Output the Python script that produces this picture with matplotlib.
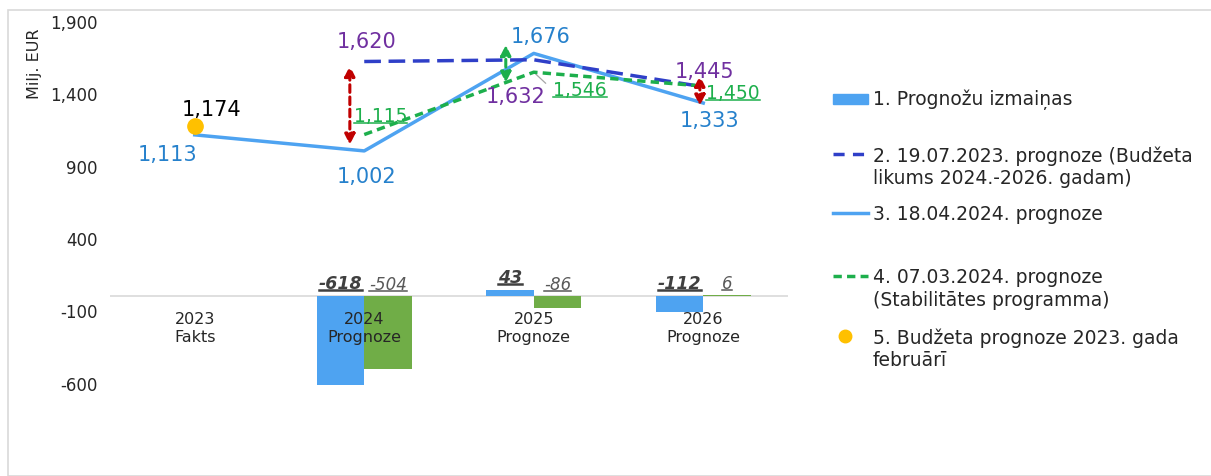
import matplotlib

matplotlib.use("Agg")
import matplotlib.pyplot as plt  # noqa: E402
from matplotlib.lines import Line2D  # noqa: E402
from matplotlib.patches import Rectangle  # noqa: E402
import numpy as np  # noqa: E402

# --- data -------------------------------------------------------------------
categories = ["2023\nFakts", "2024\nPrognoze", "2025\nPrognoze", "2026\nPrognoze"]
change_apr24 = [np.nan, -618, 43, -112]      # 18.04.2024 minus 19.07.2023
change_mar24 = [np.nan, -504, -86, 6]        # 07.03.2024 minus 19.07.2023
forecast_jul23 = [np.nan, 1620, 1632, 1445]  # budget law 2024-2026
forecast_apr24 = [1113, 1002, 1676, 1333]
forecast_mar24 = [np.nan, 1115, 1546, 1450]  # stability programme
budget_feb23 = [1174, np.nan, np.nan, np.nan]
yticks = [-600, -100, 400, 900, 1400, 1900]

legend_labels = [
    "1. Prognožu izmaiņas",
    "2. 19.07.2023. prognoze (Budžeta\nlikums 2024.-2026. gadam)",
    "3. 18.04.2024. prognoze",
    "4. 07.03.2024. prognoze\n(Stabilitātes programma)",
    "5. Budžeta prognoze 2023. gada\nfebruārī",
]

C_BLUE = "#4ea3f1"
C_GREEN_BAR = "#70ad47"
C_NAVY = "#2f3fc8"
C_GREEN = "#1daf4c"
C_ORANGE = "#ffc000"
C_PURPLE = "#7030a0"
C_BLUE_TXT = "#2681cc"
C_GREEN_TXT = "#1daf4c"
C_RED = "#c00000"
C_TEXT = "#262626"
NAVY_DASH = (4.8, 2.2)
GREEN_DASH = (2.4, 1.5)

plt.rcParams["font.family"] = ["DejaVu Sans"]

fig = plt.figure(figsize=(12.11, 4.77), dpi=100)
fig.patches.append(Rectangle((8 / 1211, 0.0), 1.0, 1 - 11 / 477, transform=fig.transFigure,
                             fill=False, edgecolor="#d9d9d9", lw=1.2))
ax = fig.add_axes([110 / 1211, 1 - 456 / 477, 678 / 1211, 434 / 477])

x = np.arange(len(categories))
bw = 0.28
ax.bar(x - bw / 2, change_apr24, bw, color=C_BLUE, zorder=2)
ax.bar(x + bw / 2, change_mar24, bw, color=C_GREEN_BAR, zorder=2)
ax.axhline(0, color="#d9d9d9", lw=1.2, zorder=1)

ax.plot(x, forecast_apr24, color=C_BLUE, lw=2.5, zorder=4)
ax.plot(x, forecast_jul23, color=C_NAVY, lw=2.5, dashes=NAVY_DASH, zorder=4)
ax.plot(x, forecast_mar24, color=C_GREEN, lw=2.5, dashes=GREEN_DASH, zorder=4)
ax.plot(x, budget_feb23, "o", color=C_ORANGE, ms=11, zorder=5)

ax.set_xlim(-0.5, len(categories) - 0.5)
ax.set_ylim(-1100, 1900)
ax.set_yticks(yticks)
ax.set_yticklabels([f"{v:,}" for v in yticks])
ax.set_xticks([])
ax.tick_params(axis="y", length=0, labelsize=12, labelcolor=C_TEXT, pad=9)
for s in ax.spines.values():
    s.set_visible(False)
fig.text(35 / 1211, 1 - 64 / 477, "Milj. EUR", rotation=90, ha="center", va="center",
         fontsize=11.5, color=C_TEXT)

# category labels sit just under the zero line, over the bars
for i, lab in enumerate(categories):
    ax.annotate(lab, (i, 0), xytext=(0, -15), textcoords="offset pixels", ha="center",
                va="top", fontsize=11.5, color=C_TEXT, linespacing=1.25, zorder=6)

underlined = []


def label(i, v, dx, dy, color, under=0, anchor=None, va="center", fontsize=15, **kw):
    yy = v if anchor is None else anchor
    t = ax.annotate(f"{v:,}", (i, yy), xytext=(dx, dy), textcoords="offset pixels",
                    ha="center", va=va, color=color, zorder=7, fontsize=fontsize, **kw)
    if under:
        underlined.append((t, under))
    return t


# bar value labels (above the zero line / bar top)
for i in range(len(categories)):
    if not np.isnan(change_apr24[i]):
        label(i - bw / 2, int(change_apr24[i]), 0, 4, "#404040", 1.8,
              anchor=max(change_apr24[i], 0), va="bottom", fontsize=12.5,
              fontweight="bold", style="italic")
    if not np.isnan(change_mar24[i]):
        label(i + bw / 2, int(change_mar24[i]), 0, 3, "#595959", 1.1,
              anchor=max(change_mar24[i], 0), va="bottom", fontsize=12, style="italic")

# line value labels
label(0, budget_feb23[0], 17, 17, "black")
label(0, forecast_apr24[0], -27, -19, C_BLUE_TXT)
label(1, forecast_apr24[1], 2, -25, C_BLUE_TXT)
label(2, forecast_apr24[2], 7, 17, C_BLUE_TXT)
label(3, forecast_apr24[3], 6, -17, C_BLUE_TXT)
label(1, forecast_jul23[1], 2, 21, C_PURPLE)
label(2, forecast_jul23[2], -18, -36, C_PURPLE)
label(3, forecast_jul23[3], 1, 16, C_PURPLE)
label(1, forecast_mar24[1], 16, 19, C_GREEN_TXT, 1.1, fontsize=13.5)
label(3, forecast_mar24[3], 30, -6, C_GREEN_TXT, 1.1, fontsize=13.5)
label(2, forecast_mar24[2], 46, -17, C_GREEN_TXT, 1.1, fontsize=13.5)
ax.annotate("", xy=(2, forecast_mar24[2]), xytext=(14, -13), textcoords="offset pixels",
            arrowprops=dict(arrowstyle="-", color="#a6a6a6", lw=0.9), zorder=3)

# double-headed dashed arrows marking the revisions
arrows = [
    (1 - 0.085, forecast_jul23[1] - 30, forecast_apr24[1] + 43, C_RED),
    (2 - 0.165, forecast_apr24[2] + 59, forecast_mar24[2] - 72, C_GREEN),
    (3 - 0.02, forecast_jul23[3] + 77, forecast_apr24[3] - 18, C_RED),
]
for ax_x, top, bot, col in arrows:
    ax.annotate("", xy=(ax_x, top), xytext=(ax_x, bot),
                arrowprops=dict(arrowstyle="<|-|>", color=col, lw=2.2,
                                linestyle=(0, (2.5, 1.5)), mutation_scale=15,
                                shrinkA=0, shrinkB=0), zorder=6)

# legend, drawn by hand to match the uneven spacing
leg_y = [100, 155, 214, 277, 337]
x0, x1 = 833 / 1211, 868 / 1211
for k, (lab, yy) in enumerate(zip(legend_labels, leg_y)):
    yf = 1 - yy / 477
    if k == 0:
        fig.patches.append(Rectangle((x0, yf - 5 / 477), x1 - x0, 10 / 477,
                                     transform=fig.transFigure, color=C_BLUE))
    elif k == 1:
        fig.lines.append(Line2D([x0, x1], [yf, yf], transform=fig.transFigure,
                                color=C_NAVY, lw=2.5, dashes=(3.2, 2.4)))
    elif k == 2:
        fig.lines.append(Line2D([x0, x1], [yf, yf], transform=fig.transFigure,
                                color=C_BLUE, lw=2.5))
    elif k == 3:
        fig.lines.append(Line2D([x0, x1], [yf, yf], transform=fig.transFigure,
                                color=C_GREEN, lw=2.5, dashes=GREEN_DASH))
    else:
        fig.lines.append(Line2D([(x0 + x1) / 2 - 6 / 1211], [yf], transform=fig.transFigure,
                                marker="o", color=C_ORANGE, ms=9, ls=""))
    two = "\n" in lab
    fig.text(873 / 1211, yf + (9 / 477 if two else 0), lab, ha="left",
             va="top" if two else "center", fontsize=13.5, color=C_TEXT, linespacing=1.25)

# underline the data labels that are underlined in the original
fig.canvas.draw()
r = fig.canvas.get_renderer()
inv = fig.transFigure.inverted()
for t, lw in underlined:
    bb = t.get_window_extent(r)
    (xa, ya), (xb, _) = inv.transform([(bb.x0, bb.y0 + 2), (bb.x1, bb.y0)])
    fig.lines.append(Line2D([xa, xb], [ya, ya], transform=fig.transFigure,
                            color=t.get_color(), lw=lw))

fig.savefig("out.png", dpi=100)
plt.close(fig)
